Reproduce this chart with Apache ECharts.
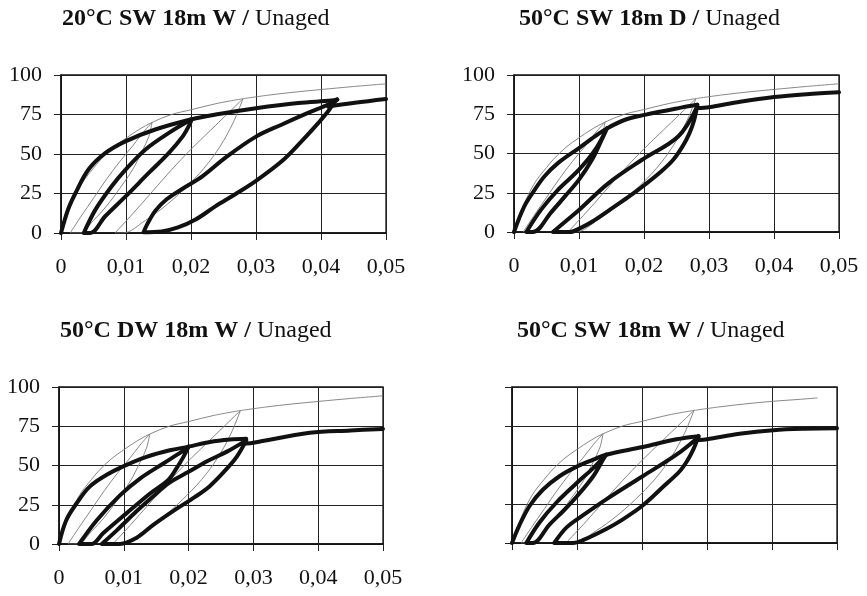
<!DOCTYPE html>
<html>
<head>
<meta charset="utf-8">
<script src="https://cdn.jsdelivr.net/npm/echarts@6/dist/echarts.min.js"></script>
<style>html,body{margin:0;padding:0;background:#fff}#c{width:867px;height:596px}</style>
</head>
<body>
<div id="c"></div>
<script>
// ---- titles ----
var titlesBold = ['20°C SW 18m W /', '50°C SW 18m D /', '50°C DW 18m W /', '50°C SW 18m W /'];
var titlesNormal = [' Unaged', ' Unaged', ' Unaged', ' Unaged'];

// ---- tick labels ----
var xTickLabels = ['0', '0,01', '0,02', '0,03', '0,04', '0,05'];
var yTickLabels = ['0', '25', '50', '75', '100'];

// ---- thin reference curves (Unaged) ----
var thinBackbone = [[0,0],[0.001,12],[0.002,22],[0.003,30],[0.004,36],[0.005,41],[0.006,46],[0.008,54],[0.010,60],[0.012,65.5],[0.014,70],[0.017,75],[0.020,78],[0.024,82],[0.028,85]];
var thinTail = [[0.028,85],[0.032,87.3],[0.036,89.2],[0.040,90.8],[0.045,92.7],[0.050,94.4]];
var thinTailShort = [[0.028,85],[0.032,87.3],[0.036,89.2],[0.040,90.8],[0.044,92],[0.047,93]];
var thinLoop1 = [[0.014,70],[0.0135,61],[0.0125,52],[0.011,40],[0.009,28],[0.007,17],[0.005,8],[0.0029,0],[0.0014,0],[0.003,10],[0.005,22],[0.007,34],[0.009,45],[0.011,55],[0.0125,63],[0.014,70]];
var thinLoop2 = [[0.028,85],[0.0265,70],[0.0245,55],[0.022,41],[0.019,28],[0.016,17],[0.013,8],[0.0095,0],[0.0083,0],[0.011,12],[0.014,26],[0.017,40],[0.020,53],[0.023,65],[0.0255,75],[0.028,85]];

// ---- panel 1: 20°C SW 18m W ----
var p1Backbone = [[0,0],[0.0011,15],[0.0022,25],[0.0042,40],[0.0068,50.5],[0.0099,58],[0.0145,65.5],[0.0201,72],[0.0238,75],[0.030,79],[0.0365,82.3],[0.0416,83.8],[0.0425,84.5]];
var p1Loop1 = [[0.0201,72],[0.0197,68],[0.0187,61],[0.0166,50.7],[0.0135,38],[0.0099,23],[0.0068,10.6],[0.0045,0],[0.0035,0],[0.0053,14.8],[0.0078,29.6],[0.0099,40],[0.013,52.9],[0.0166,63.4],[0.0201,72]];
var p1Loop2 = [[0.0425,84.5],[0.0419,82],[0.0411,77],[0.0396,69.7],[0.037,58],[0.034,45.5],[0.030,33],[0.0268,24.5],[0.0238,17],[0.0207,8.5],[0.018,3.5],[0.0155,1],[0.0127,0.5],[0.0132,5],[0.0145,14],[0.0163,21.5],[0.0187,28],[0.0218,36],[0.0254,48],[0.030,61],[0.034,68.7],[0.038,76],[0.0411,81.3],[0.0425,84.5]];
var p1Tail = [[0.0411,80],[0.0452,82.4],[0.05,84.8]];

// ---- panel 2: 50°C SW 18m D ----
var p2Backbone = [[0,0],[0.0016,16.5],[0.0032,27],[0.0047,35.5],[0.0068,44],[0.01,53.5],[0.0125,61],[0.0143,66],[0.0171,71.5],[0.0201,74.6],[0.0253,78.9],[0.0282,81]];
var p2Loop1 = [[0.0143,66],[0.0135,58.8],[0.012,46],[0.01,33.4],[0.008,23.5],[0.0058,13],[0.0029,0],[0.0019,0],[0.0042,14.4],[0.0068,27],[0.01,39.7],[0.0125,52.4],[0.0143,66]];
var p2Loop2 = [[0.0282,81],[0.0277,71],[0.027,63],[0.026,55],[0.0245,46],[0.0225,38],[0.0201,30],[0.0175,22],[0.0145,13.5],[0.012,6.5],[0.0102,2.5],[0.0086,0],[0.006,0],[0.008,7],[0.01,14],[0.0145,31],[0.0197,46],[0.0253,61],[0.0282,80]];
var p2Tail = [[0.0282,79],[0.030,79.5],[0.0348,83],[0.040,86],[0.045,87.8],[0.05,89]];

// ---- panel 3: 50°C DW 18m W ----
var p3Backbone = [[0,0],[0.0011,15],[0.0027,25.8],[0.0047,36.4],[0.0073,43.9],[0.01,49.6],[0.0135,55.5],[0.0171,59.7],[0.02,62],[0.0233,65],[0.0264,66.5],[0.0289,67]];
var p3Loop1 = [[0.02,62],[0.0192,55.5],[0.0181,48],[0.0169,41],[0.014,32],[0.0104,19.5],[0.0068,6.8],[0.005,0],[0.0031,0],[0.0058,15],[0.0094,31],[0.0125,41.7],[0.0161,51.3],[0.0189,58.7],[0.02,62]];
var p3Loop2 = [[0.0289,66],[0.0275,56],[0.0259,48],[0.0233,37],[0.021,30],[0.018,22],[0.0145,12],[0.012,4],[0.0094,0],[0.0066,0],[0.009,9],[0.012,21],[0.015,32],[0.017,39],[0.020,46],[0.023,53],[0.026,59],[0.0289,66]];
var p3Tail = [[0.0289,64],[0.030,64.5],[0.0387,70.8],[0.045,72.3],[0.05,73.3]];

// ---- panel 4: 50°C SW 18m W ----
var p4Backbone = [[0,0],[0.0011,11],[0.0027,23.7],[0.0047,34],[0.0073,42.8],[0.01,49],[0.0125,53.4],[0.0145,56.6],[0.0201,61.5],[0.0253,66.5],[0.0287,68.5]];
var p4Loop1 = [[0.0145,56.6],[0.014,53.4],[0.0125,42.8],[0.01,30],[0.008,21],[0.0058,12],[0.0032,0],[0.0022,0],[0.0042,13],[0.0068,25.8],[0.01,38.6],[0.0125,48],[0.0145,56.6]];
var p4Loop2 = [[0.0287,68.5],[0.0279,60],[0.027,53],[0.0258,46],[0.0235,37],[0.0201,24],[0.017,15],[0.0145,9],[0.011,2],[0.0094,0],[0.0065,0],[0.0084,10],[0.011,18],[0.0145,28],[0.0201,42.8],[0.0253,56.6],[0.0287,68]];
var p4Tail = [[0.0287,66],[0.030,66.5],[0.035,70],[0.0402,72.3],[0.045,73.2],[0.05,73.5]];

var thinSets = [
  [thinBackbone, thinLoop1, thinLoop2, thinTail],
  [thinBackbone, thinLoop1, thinLoop2, thinTail],
  [thinBackbone, thinLoop1, thinLoop2, thinTail],
  [thinBackbone, thinLoop1, thinLoop2, thinTailShort]
];
var thickSets = [
  [p1Backbone, p1Loop1, p1Loop2, p1Tail],
  [p2Backbone, p2Loop1, p2Loop2, p2Tail],
  [p3Backbone, p3Loop1, p3Loop2, p3Tail],
  [p4Backbone, p4Loop1, p4Loop2, p4Tail]
];

var grids = [
  {left: 61, top: 75, width: 325, height: 158},
  {left: 514, top: 75, width: 325, height: 157},
  {left: 59, top: 387, width: 324, height: 157},
  {left: 512, top: 387, width: 325, height: 156}
];
var titlePos = [[62, 7], [519, 7], [60, 319], [517, 319]];
var showLabels = [true, true, true, false];

var FONT = '"Liberation Serif", "Times New Roman", serif';
var option = {animation: false, backgroundColor: '#fff', title: [], grid: [], xAxis: [], yAxis: [], series: []};

for (var i = 0; i < 4; i++) {
  option.title.push({
    left: titlePos[i][0], top: titlePos[i][1], padding: 0,
    text: '{b|' + titlesBold[i] + '}{n|' + titlesNormal[i] + '}',
    textStyle: {rich: {
      b: {fontFamily: FONT, fontSize: 24, fontWeight: 'bold', color: '#111'},
      n: {fontFamily: FONT, fontSize: 24, fontWeight: 'normal', color: '#111'}
    }}
  });
  var g = grids[i];
  option.grid.push({left: g.left, top: g.top, width: g.width, height: g.height, show: true, borderColor: '#111', borderWidth: 1.3, backgroundColor: 'transparent'});
  option.xAxis.push({
    type: 'value', gridIndex: i, min: 0, max: 0.05, interval: 0.01,
    axisLine: {show: true, onZero: false, lineStyle: {color: '#111', width: 1.5}},
    axisTick: {show: true, length: 7, lineStyle: {color: '#222', width: 1}},
    splitLine: {show: true, lineStyle: {color: '#222', width: 1}},
    axisLabel: {show: showLabels[i], margin: 23, fontFamily: FONT, fontSize: 22, color: '#111',
      formatter: function (v) { return xTickLabels[Math.round(v / 0.01)]; }}
  });
  option.yAxis.push({
    type: 'value', gridIndex: i, min: 0, max: 100, interval: 25,
    axisLine: {show: true, onZero: false, lineStyle: {color: '#111', width: 1.5}},
    axisTick: {show: true, length: 7, lineStyle: {color: '#222', width: 1}},
    splitLine: {show: true, lineStyle: {color: '#222', width: 1}},
    axisLabel: {show: showLabels[i], margin: 19, fontFamily: FONT, fontSize: 22, color: '#111',
      formatter: function (v) { return yTickLabels[Math.round(v / 25)]; }}
  });
  thinSets[i].forEach(function (d) {
    option.series.push({type: 'line', xAxisIndex: i, yAxisIndex: i, data: d, smooth: 0.35, showSymbol: false, symbol: 'none', silent: true,
      lineStyle: {color: '#7a7a7a', width: 0.9}, z: 2});
  });
  thickSets[i].forEach(function (d) {
    option.series.push({type: 'line', xAxisIndex: i, yAxisIndex: i, data: d, smooth: 0.35, showSymbol: false, symbol: 'none', silent: true,
      lineStyle: {color: '#111', width: 4, cap: 'round', join: 'round'}, z: 3});
  });
}
var chart = echarts.init(document.getElementById('c'), null, {renderer: 'canvas'});
chart.setOption(option);
</script>
</body>
</html>
